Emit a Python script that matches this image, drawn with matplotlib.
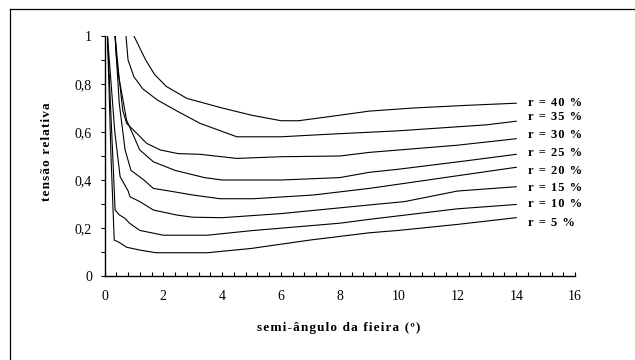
import matplotlib.pyplot as plt
from matplotlib.lines import Line2D
from matplotlib.ticker import MultipleLocator, FixedLocator

plt.rcParams['font.family'] = ['Liberation Serif', 'DejaVu Serif']

# semi-angle of the die (degrees) and relative drawing stress, one curve per reduction
x_r5 = [0.1, 0.22, 0.33, 0.5, 0.75, 1.2, 1.75, 3.5, 5.0, 7.0, 9.0, 10.0, 12.0, 14.0]
y_r5 = [1.0, 0.5, 0.15, 0.14, 0.12, 0.108, 0.097, 0.097, 0.115, 0.15, 0.18, 0.19, 0.215, 0.243]

x_r10 = [0.1, 0.28, 0.36, 0.5, 0.7, 0.85, 1.2, 2.0, 3.5, 5.0, 8.0, 9.0, 12.0, 14.0]
y_r10 = [1.0, 0.5, 0.275, 0.255, 0.24, 0.22, 0.19, 0.17, 0.17, 0.189, 0.22, 0.236, 0.28, 0.298]

x_r15 = [0.1, 0.35, 0.53, 0.8, 0.87, 1.2, 1.66, 2.46, 3.0, 4.0, 6.0, 9.0, 10.2, 12.0, 14.0]
y_r15 = [1.0, 0.6, 0.414, 0.355, 0.33, 0.31, 0.275, 0.254, 0.245, 0.243, 0.26, 0.296, 0.31, 0.354, 0.372]

x_r20 = [0.36, 0.5, 0.7, 0.9, 1.34, 1.66, 2.36, 3.0, 3.93, 5.06, 7.1, 9.0, 10.2, 14.0]
y_r20 = [1.0, 0.72, 0.525, 0.44, 0.40, 0.365, 0.351, 0.3375, 0.322, 0.322, 0.3375, 0.365, 0.386, 0.453]

x_r25 = [0.36, 0.5, 0.75, 1.2, 1.66, 2.4, 3.4, 4.0, 6.0, 8.0, 9.0, 10.0, 12.3, 14.0]
y_r25 = [1.0, 0.82, 0.65, 0.525, 0.476, 0.44, 0.41, 0.40, 0.40, 0.41, 0.432, 0.445, 0.48, 0.507]

x_r30 = [0.36, 0.41, 0.53, 0.62, 0.75, 1.1, 1.43, 1.9, 2.5, 3.25, 4.5, 6.0, 8.0, 9.0, 12.0, 14.0]
y_r30 = [1.0, 0.9, 0.79, 0.69, 0.636, 0.594, 0.553, 0.525, 0.51, 0.507, 0.49, 0.497, 0.50, 0.515, 0.545, 0.572]

x_r35 = [0.73, 0.8, 1.0, 1.3, 1.8, 2.5, 3.25, 4.5, 6.0, 7.5, 10.0, 13.0, 14.0]
y_r35 = [1.0, 0.9, 0.83, 0.78, 0.733, 0.685, 0.636, 0.58, 0.58, 0.59, 0.605, 0.63, 0.645]

x_r40 = [1.0, 1.4, 1.7, 2.1, 2.8, 4.0, 5.0, 6.0, 6.6, 7.7, 9.0, 10.5, 12.3, 14.0]
y_r40 = [1.0, 0.9, 0.84, 0.79, 0.74, 0.70, 0.67, 0.647, 0.647, 0.665, 0.687, 0.70, 0.711, 0.72]

curve_labels = ["r = 5 %", "r = 10 %", "r = 15 %", "r = 20 %",
                "r = 25 %", "r = 30 %", "r = 35 %", "r = 40 %"]
label_y = [0.22, 0.299, 0.365, 0.4375, 0.514, 0.5875, 0.661, 0.72]

x_ticks = [0, 2, 4, 6, 8, 10, 12, 14, 16]
y_ticks = [0, 0.2, 0.4, 0.6, 0.8, 1.0]
y_tick_labels = ["0", "0,2", "0,4", "0,6", "0,8", "1"]


def spaced(s, gap="\u200a"):
    return gap.join(s)


fig = plt.figure(figsize=(6.35, 3.6), dpi=100)
ax = fig.add_axes([0.1646, 0.2333, 0.741, 0.6667])

curves = [(x_r5, y_r5), (x_r10, y_r10), (x_r15, y_r15), (x_r20, y_r20),
          (x_r25, y_r25), (x_r30, y_r30), (x_r35, y_r35), (x_r40, y_r40)]
for xs, ys in curves:
    ax.plot(xs, ys, color='black', lw=0.8)

for txt, ly in zip(curve_labels, label_y):
    ax.text(14.4, ly, spaced(txt), fontsize=9, fontweight='bold',
            ha='left', va='center')

ax.set_xlim(0, 16)
ax.set_ylim(0, 1)
ax.xaxis.set_major_locator(FixedLocator(x_ticks))
ax.xaxis.set_minor_locator(MultipleLocator(0.4))
ax.set_xticklabels([str(t) for t in x_ticks])
ax.yaxis.set_major_locator(FixedLocator(y_ticks))
ax.yaxis.set_minor_locator(MultipleLocator(0.1))
ax.set_yticklabels(y_tick_labels)

ax.tick_params(axis='x', which='both', direction='in', length=3, width=0.8,
               pad=10, labelsize=10)
ax.tick_params(axis='y', which='both', direction='out', length=3, width=0.8,
               pad=6, labelsize=10)

for side in ['top', 'right']:
    ax.spines[side].set_visible(False)
for side in ['left', 'bottom']:
    ax.spines[side].set_linewidth(1.0)

fig.text(0.534, 0.089, spaced("semi-ângulo da fieira (º)"), fontsize=9.5,
         fontweight='bold', ha='center', va='center')
fig.text(0.074, 0.578, spaced("tensão relativa"), fontsize=9.5,
         fontweight='bold', ha='center', va='center', rotation=90)

# outer frame (left and top edges)
fig.add_artist(Line2D([10 / 635, 10 / 635], [0, 1 - 9 / 360], color='black', lw=0.9))
fig.add_artist(Line2D([10 / 635, 1], [1 - 9 / 360, 1 - 9 / 360], color='black', lw=0.9))

fig.savefig("out.png", dpi=100)
